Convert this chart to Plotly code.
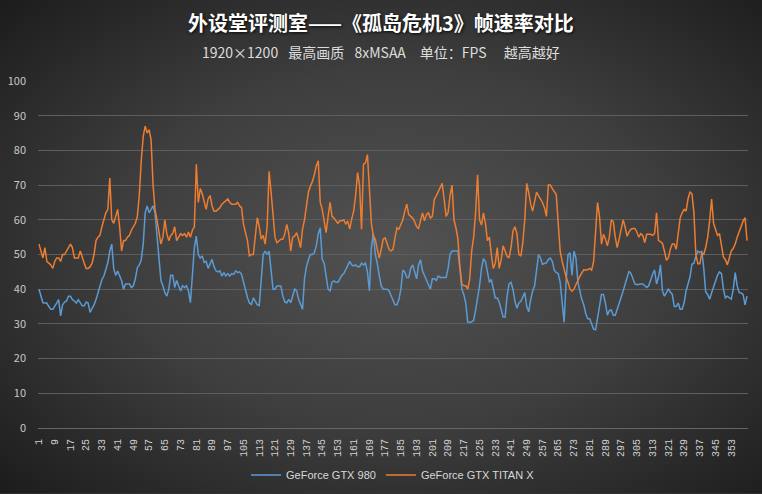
import base64
import plotly.graph_objects as go

title_text = "外设堂评测室——《孤岛危机3》帧速率对比"
subtitle_text = "1920×1200\u2002\u00a0最高画质\u2002\u00a08xMSAA\u2003单位：FPS\u2003\u00a0越高越好"
series_names = ["GeForce GTX 980", "GeForce GTX TITAN X"]

gtx980 = [
    40, 38, 36.1, 36, 36, 35, 34.2, 34.2, 35, 36,
    37, 32.3, 35.5, 36.3, 36.6, 38, 38, 37, 36.6, 36,
    37, 36, 35.2, 35.2, 36.3, 36, 33.3, 34.5, 35.5, 37,
    39, 41, 42.8, 43.8, 45.7, 47.6, 51, 53, 46, 44,
    45.2, 44, 42.5, 40, 41.5, 41.5, 41.5, 40.5, 41, 43,
    46.2, 47, 48.5, 53, 62, 64, 62, 63, 64, 62,
    56, 49, 42.5, 41, 39, 38, 40, 44, 44, 40.5,
    42.5, 41, 39.5, 41, 40.5, 41, 39.5, 36.1, 43, 52,
    55.3, 50, 49, 49.6, 47.7, 48, 46, 47.5, 48.6, 46.5,
    45.3, 45, 45.3, 43.8, 44.8, 43.8, 44.5, 43.8, 44.5, 44.3,
    45.3, 44.8, 45, 44.3, 42, 39, 37.6, 36, 35.6, 37.5,
    36.6, 35.5, 35.3, 44, 50, 51, 50, 51, 45, 40,
    40, 40.9, 40.9, 40.9, 38, 36.3, 36.1, 37.1, 36.1, 38,
    40, 39.5, 37.1, 35.7, 34.2, 43, 46.5, 48.5, 50, 50,
    50.5, 52.5, 56, 57.7, 48.6, 47.5, 43, 40, 39.5, 42,
    42.4, 42, 42, 43, 44, 44.5, 45.7, 47, 48, 47,
    46.7, 47, 46.5, 46.5, 47.5, 47, 47.5, 45, 39.5, 52,
    56, 50, 47.5, 44, 41, 40, 40, 40, 39.5, 38,
    36.6, 35.5, 35.5, 37, 40, 45.5, 45, 43.4, 43.4, 46,
    47, 45, 43, 47, 48.5, 45.3, 44, 42.5, 41.5, 40,
    43, 43, 42.5, 43.8, 43.4, 43.4, 43.4, 43.4, 46, 50,
    51, 51, 51, 51, 46, 40, 38.5, 36, 30.5, 30.4,
    30.6, 31, 34, 37, 41, 46, 48.8, 48, 44.5, 42,
    42.8, 40, 37.5, 37.5, 36.3, 34.2, 32, 32, 38, 41.5,
    42, 40, 36.5, 34.5, 36, 36.5, 38, 39, 35, 33.5,
    37, 39.5, 41, 45, 50, 49, 47.2, 47.4, 47.6, 48.6,
    49, 48, 45.5, 44.8, 44.5, 42, 36, 30.5, 42, 50,
    50.5, 44, 51, 49, 42, 39.5, 37, 35.5, 33, 31.5,
    31.5, 30, 28.5, 28.3, 31.5, 35.5, 38.5, 38.5, 36, 32.5,
    33.8, 34, 32.5, 32.5, 34.5, 36.5, 37.7, 39.5, 41.5, 43.5,
    45.2, 44.5, 43, 41.5, 41.3, 41.5, 41.5, 41.5, 41, 40.5,
    41, 43, 44.3, 45.5, 41.5, 43.5, 47, 39.5, 38, 39,
    40, 39.2, 38.5, 35, 35, 36, 34.2, 34.2, 36, 39.5,
    41.5, 43.5, 47.2, 47.5, 49.5, 51, 50.5, 51, 46, 39.2,
    38.5, 37.1, 39, 40.8, 42.5, 44, 45, 44.5, 40, 37.5,
    38, 37.5, 37.1, 40, 44.8, 41, 39, 38.9, 38.5, 35.5, 38,
]

titan_x = [
    53, 51, 49, 52, 48, 47.5, 47, 46, 48, 49,
    49, 48, 50, 50, 51, 52, 53, 52, 49, 49,
    49, 51, 49, 47.5, 46, 46, 46.5, 47.5, 50, 54,
    55, 55.5, 58, 60, 62, 63, 72, 60, 59, 61,
    63, 58, 51, 54, 54, 55, 55.5, 57, 58, 59,
    61, 67, 77, 84, 87, 85, 86, 83, 70, 63,
    60, 57, 53, 55, 60, 56, 54, 55.5, 56, 58,
    54, 55, 56, 55.5, 56, 55, 56.5, 55, 57, 58,
    76, 65, 69, 67.5, 65, 63, 66, 67, 64, 62.5,
    62.5, 63, 63.5, 64.5, 65, 65.5, 66, 65, 64.5, 64.5,
    64.5, 65, 64, 63.5, 58.7, 56.3, 54, 49.6, 50, 50,
    55.3, 60.6, 58, 54.4, 55.5, 53, 58, 74, 68, 60,
    55, 53.4, 54, 54.4, 54.4, 56, 58.7, 56, 51, 55,
    55.3, 56.3, 54.4, 52, 57.3, 60, 64, 68, 69.7, 71,
    73, 75.5, 77, 65, 63, 60, 56.3, 61, 65, 61,
    60.5, 59.7, 59, 59.7, 59.7, 60, 58.7, 59.7, 57.3, 60.2,
    62.5, 67, 73.6, 70, 57.3, 76, 76.4, 78.8, 70, 59,
    55.3, 54.4, 51.5, 49, 51.5, 54.4, 54.8, 53, 51.5, 51,
    51.5, 54.8, 57.7, 57.3, 58.5, 60, 62.5, 64.5, 61.5, 61,
    60.5, 59.5, 58, 57.5, 59.5, 62, 59.7, 61.5, 62, 60.5,
    61, 65.9, 66.9, 68, 69.5, 70.5, 66, 61, 62, 67,
    70, 60, 57.7, 54.5, 46.5, 41.5, 41, 41, 40, 43,
    51, 55, 62, 73, 60, 58.5, 62, 59, 54, 55,
    50, 46, 47.5, 52, 46, 48.5, 52.5, 51, 49.5, 49,
    52, 56.8, 58, 56, 50, 49.5, 53.4, 60, 70.5, 67.8,
    64.5, 62.5, 65, 68, 67, 66, 65, 63.5, 61, 70,
    70, 69, 68.3, 67.3, 59, 51, 48, 45.5, 43.5, 42,
    40, 39.4, 40, 41.3, 42.7, 43.7, 44.7, 45.6, 45.5, 45.6,
    46, 45.5, 48, 58, 65, 61, 53, 55.8, 54.5, 52.5,
    55, 60, 59.5, 55, 52, 54.5, 57.3, 60, 58, 55.3,
    56.5, 57.3, 57.5, 57.5, 56.5, 55, 56, 55.5, 53.4, 55.8,
    55.8, 55.8, 55.5, 56, 62, 54, 53.7, 53.2, 51, 48.3,
    49, 51.5, 53, 53, 51.5, 57, 60.5, 62, 63, 62.5,
    66, 68, 67.5, 62, 50, 47.3, 47.3, 50.3, 50, 52,
    55, 59.7, 66, 59, 57, 55.5, 56, 52, 49.3, 48.5,
    47, 49, 51, 51.8, 53, 55, 56.6, 57.7, 59.6, 60.6, 54,
]

categories = list(range(1, len(titan_x) + 1))
tick_values = list(range(1, 354, 8))
tick_labels = [str(c) for c in tick_values]
y_ticks = list(range(0, 101, 10))

W, H = 762, 494
L, R, T, B = 38, 14, 81, 65.5
pw, ph = W - L - R, H - T - B

svg = (
    '<svg xmlns="http://www.w3.org/2000/svg" width="762" height="494" viewBox="0 0 762 494" preserveAspectRatio="none">'
    '<defs><radialGradient id="g" cx="0.52" cy="0.5" r="0.72">'
    '<stop offset="0" stop-color="#525252"/>'
    '<stop offset="0.5" stop-color="#3e3e3e"/>'
    '<stop offset="1" stop-color="#1c1c1c"/>'
    '</radialGradient></defs>'
    '<rect width="762" height="494" fill="url(#g)"/></svg>'
)
bg_uri = "data:image/svg+xml;base64," + base64.b64encode(svg.encode()).decode()

fig = go.Figure()
fig.add_trace(go.Scatter(
    x=categories, y=gtx980, mode="lines", name=series_names[0],
    line=dict(color="#5b9bd5", width=1.5),
))
fig.add_trace(go.Scatter(
    x=categories, y=titan_x, mode="lines", name=series_names[1],
    line=dict(color="#ed7d31", width=1.5),
))

fig.update_layout(
    width=W, height=H,
    margin=dict(l=L, r=R, t=T, b=B, pad=0, autoexpand=False),
    paper_bgcolor="#333333",
    plot_bgcolor="rgba(0,0,0,0)",
    showlegend=True,
    legend=dict(
        orientation="h", x=0.5, xanchor="center",
        yref="container", y=1 - 475 / H, yanchor="middle",
        font=dict(family="Liberation Sans, Noto Sans", size=11, color="#d8d8d8"),
        bgcolor="rgba(0,0,0,0)", itemwidth=30,
    ),
    images=[dict(
        source=bg_uri, xref="paper", yref="paper",
        x=-L / pw, y=1 + T / ph, sizex=W / pw, sizey=H / ph,
        xanchor="left", yanchor="top", sizing="stretch", layer="below",
    )],
    xaxis=dict(
        range=[0.5, len(categories) + 0.5],
        tickmode="array", tickvals=tick_values, ticktext=tick_labels,
        tickangle=-90, automargin=False,
        tickfont=dict(family="Liberation Mono, DejaVu Sans Mono", size=10, color="#d0d0d0"),
        showgrid=False, zeroline=False,
        showline=True, linecolor="#666666", linewidth=1,
        ticks="", ticklabelstandoff=6,
    ),
    yaxis=dict(
        range=[0, 100], tickmode="array", tickvals=y_ticks, automargin=False,
        tickfont=dict(family="Noto Sans CJK SC, Noto Sans", size=11, color="#c8c8c8"),
        showgrid=True, gridcolor="#5e5e5e", gridwidth=1,
        zeroline=False, showline=False, ticks="", ticklabelstandoff=11,
    ),
    annotations=[
        dict(
            text="<b>" + title_text + "</b>", xref="paper", yref="paper",
            x=(381 - L) / pw, y=1 + (T - 22) / ph, xanchor="center", yanchor="middle",
            showarrow=False,
            font=dict(family="Noto Sans CJK SC", size=20, color="#ffffff",
                      shadow="1px 1px 3px rgba(0,0,0,0.9)"),
        ),
        dict(
            text=subtitle_text, xref="paper", yref="paper",
            x=(381 - L) / pw, y=1 + (T - 52) / ph, xanchor="center", yanchor="middle",
            showarrow=False,
            font=dict(family="Noto Sans CJK SC", size=14, color="#dddddd"),
        ),
    ],
)

fig.write_html(
    "out.html",
    config={"displayModeBar": False},
    post_script="document.body.style.margin='0';document.body.style.overflow='hidden';",
)
